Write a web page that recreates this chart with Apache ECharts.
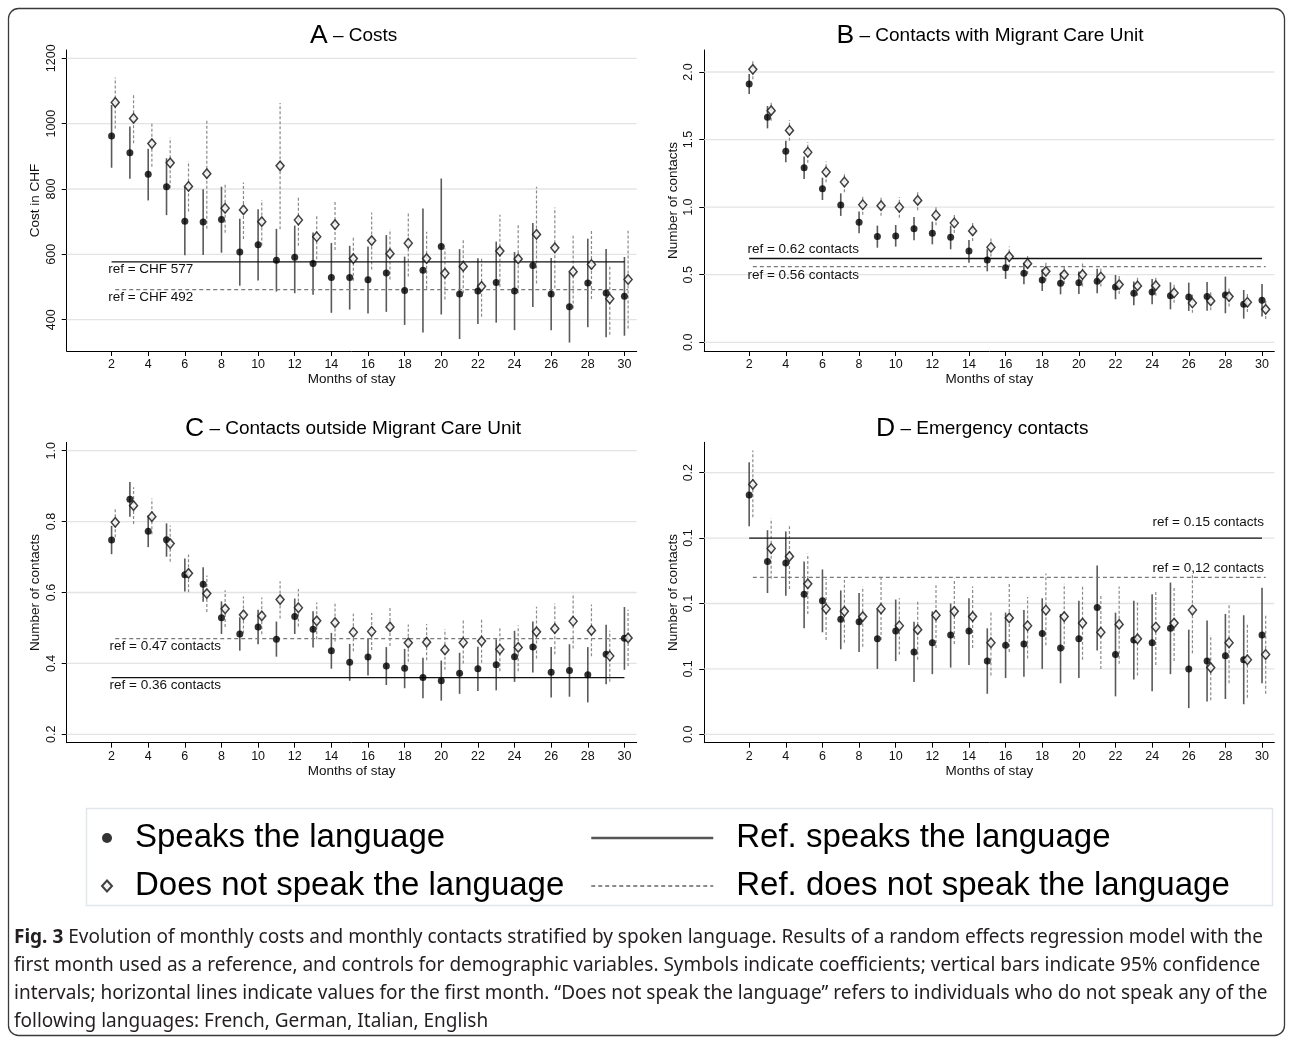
<!DOCTYPE html>
<html>
<head>
<meta charset="utf-8">
<script src="https://cdn.jsdelivr.net/npm/echarts@6/dist/echarts.min.js"></script>
<style>
  html, body { margin: 0; padding: 0; background: #fff; }
  #chart { width: 1292px; height: 1040px; }
</style>
</head>
<body>
<div id="chart"></div>
<script>
// Months of stay (month 1 is the reference month)
const months = [2,3,4,5,6,7,8,9,10,11,12,13,14,15,16,17,18,19,20,21,22,23,24,25,26,27,28,29,30];
const xTicks = [2,4,6,8,10,12,14,16,18,20,22,24,26,28,30];

// A – Costs (CHF)
const costSpk   = [962,911,845,807,701,699,707,607,629,582,591,572,529,529,522,543,489,551,624,479,488,514,488,566,479,440,512,482,472];
const costSpkLo = [865,831,765,720,597,598,605,504,520,486,481,476,421,431,419,424,384,361,416,341,387,391,368,439,368,330,377,346,351];
const costSpkHi = [1057,991,923,894,807,799,807,709,738,678,688,667,635,626,624,659,593,740,832,616,588,639,607,696,589,545,648,616,592];
const costNon   = [1065,1016,939,880,808,847,741,736,700,871,705,654,691,587,642,602,634,587,542,563,502,610,586,661,620,547,569,464,523];
const costNonLo = [985,940,868,802,731,678,666,647,627,677,626,585,613,519,554,523,532,495,462,481,409,501,481,511,496,434,463,354,373];
const costNonHi = [1141,1091,1004,957,885,1012,817,820,766,1063,779,723,764,654,728,677,726,669,618,646,593,721,695,807,743,657,674,564,672];
const costRef   = [577, 492];
const costRefLabels = ['ref = CHF 577', 'ref = CHF 492'];
const costTicks = [400, 600, 800, 1000, 1200];

// B – Contacts with Migrant Care Unit
const mcuSpk   = [1.911,1.665,1.413,1.292,1.137,1.016,0.888,0.782,0.787,0.841,0.806,0.777,0.676,0.609,0.552,0.510,0.461,0.436,0.441,0.451,0.409,0.362,0.372,0.345,0.335,0.338,0.350,0.281,0.311];
const mcuSpkLo = [1.837,1.583,1.332,1.208,1.053,0.935,0.806,0.700,0.708,0.755,0.725,0.688,0.589,0.525,0.469,0.429,0.380,0.355,0.358,0.362,0.318,0.274,0.281,0.244,0.232,0.234,0.215,0.175,0.190];
const mcuSpkHi = [1.985,1.748,1.492,1.374,1.218,1.102,0.967,0.863,0.868,0.927,0.893,0.863,0.757,0.688,0.634,0.589,0.540,0.515,0.523,0.545,0.498,0.449,0.469,0.444,0.441,0.446,0.486,0.387,0.432];
const mcuNon   = [2.020,1.714,1.568,1.406,1.260,1.186,1.018,1.011,0.999,1.050,0.940,0.883,0.824,0.703,0.634,0.582,0.525,0.501,0.501,0.483,0.427,0.417,0.419,0.365,0.291,0.306,0.338,0.296,0.244];
const mcuNonLo = [1.946,1.640,1.492,1.329,1.184,1.110,0.944,0.937,0.922,0.977,0.866,0.809,0.750,0.634,0.555,0.506,0.456,0.432,0.412,0.412,0.358,0.345,0.345,0.293,0.219,0.237,0.264,0.224,0.173];
const mcuNonHi = [2.094,1.788,1.645,1.482,1.337,1.260,1.092,1.085,1.075,1.122,1.011,0.954,0.895,0.769,0.708,0.653,0.592,0.570,0.589,0.555,0.498,0.486,0.491,0.436,0.362,0.375,0.409,0.367,0.313];
const mcuRef   = [0.62, 0.56];
const mcuRefLabels = ['ref = 0.62 contacts', 'ref = 0.56 contacts'];
const mcuTicks = [0, 0.5, 1.0, 1.5, 2.0];

// C – Contacts outside Migrant Care Unit
const outSpk   = [0.748,0.863,0.773,0.749,0.650,0.623,0.529,0.483,0.503,0.468,0.532,0.496,0.436,0.403,0.418,0.393,0.386,0.360,0.351,0.372,0.385,0.396,0.419,0.446,0.375,0.380,0.368,0.426,0.471];
const outSpkLo = [0.708,0.814,0.728,0.701,0.603,0.574,0.483,0.436,0.454,0.419,0.483,0.445,0.385,0.351,0.366,0.339,0.330,0.302,0.295,0.314,0.322,0.324,0.348,0.374,0.304,0.306,0.290,0.341,0.382];
const outSpkHi = [0.788,0.912,0.818,0.795,0.696,0.671,0.575,0.530,0.551,0.518,0.583,0.547,0.486,0.455,0.470,0.446,0.441,0.416,0.408,0.430,0.447,0.468,0.492,0.518,0.446,0.454,0.446,0.509,0.559];
const outNon   = [0.798,0.845,0.814,0.738,0.654,0.597,0.554,0.537,0.534,0.580,0.557,0.520,0.515,0.488,0.490,0.503,0.458,0.460,0.438,0.459,0.463,0.440,0.445,0.489,0.498,0.519,0.493,0.421,0.472];
const outNonLo = [0.756,0.793,0.764,0.687,0.601,0.545,0.503,0.484,0.482,0.527,0.504,0.468,0.462,0.434,0.438,0.449,0.405,0.409,0.382,0.400,0.402,0.378,0.378,0.414,0.426,0.442,0.420,0.348,0.393];
const outNonHi = [0.840,0.897,0.865,0.789,0.707,0.648,0.606,0.589,0.586,0.632,0.610,0.572,0.568,0.540,0.542,0.556,0.510,0.511,0.496,0.521,0.525,0.501,0.507,0.560,0.569,0.598,0.566,0.492,0.551];
const outRef   = [0.36, 0.47];
const outRefLabels = ['ref = 0.36 contacts', 'ref = 0.47 contacts'];
const outTicks = [0.2, 0.4, 0.6, 0.8, 1.0];

// D – Emergency contacts
const emeSpk   = [0.183,0.132,0.131,0.107,0.102,0.088,0.086,0.073,0.079,0.063,0.070,0.076,0.079,0.056,0.068,0.069,0.077,0.066,0.073,0.097,0.061,0.072,0.070,0.081,0.050,0.056,0.060,0.057,0.076];
const emeSpkLo = [0.159,0.108,0.106,0.081,0.078,0.065,0.063,0.050,0.056,0.040,0.046,0.051,0.053,0.031,0.043,0.044,0.050,0.039,0.043,0.064,0.029,0.042,0.033,0.046,0.020,0.025,0.027,0.023,0.039];
const emeSpkHi = [0.208,0.156,0.155,0.132,0.126,0.110,0.108,0.096,0.103,0.086,0.094,0.100,0.104,0.081,0.093,0.095,0.104,0.092,0.102,0.129,0.093,0.102,0.107,0.116,0.080,0.087,0.092,0.091,0.112];
const emeNon   = [0.191,0.142,0.136,0.115,0.096,0.094,0.090,0.096,0.083,0.080,0.091,0.094,0.090,0.070,0.089,0.083,0.095,0.090,0.085,0.078,0.084,0.073,0.082,0.085,0.095,0.051,0.070,0.057,0.061];
const emeNonLo = [0.166,0.119,0.111,0.092,0.072,0.070,0.067,0.072,0.061,0.057,0.066,0.069,0.066,0.045,0.063,0.058,0.068,0.065,0.057,0.050,0.054,0.045,0.053,0.056,0.062,0.026,0.039,0.028,0.031];
const emeNonHi = [0.217,0.165,0.159,0.138,0.119,0.118,0.113,0.121,0.104,0.102,0.114,0.119,0.113,0.094,0.115,0.105,0.123,0.115,0.113,0.106,0.113,0.101,0.109,0.113,0.123,0.076,0.100,0.084,0.091];
const emeRef   = [0.15, 0.12];
const emeRefLabels = ['ref = 0.15 contacts', 'ref = 0,12 contacts'];
const emeTicks = [0, 0.05, 0.1, 0.15, 0.2];
const emeTickLabels = ['0.0', '0.1', '0.1', '0.1', '0.2'];

const panelTitles = [['A', 'Costs'], ['B', 'Contacts with Migrant Care Unit'],
                     ['C', 'Contacts outside Migrant Care Unit'], ['D', 'Emergency contacts']];
const yNames = ['Cost in CHF', 'Number of contacts', 'Number of contacts', 'Number of contacts'];
const xName = 'Months of stay';
const legendNames = ['Speaks the language', 'Does not speak the language',
                     'Ref. speaks the language', 'Ref. does not speak the language'];
const captionLines = [
  'Evolution of monthly costs and monthly contacts stratified by spoken language. Results of a random effects regression model with the',
  'first month used as a reference, and controls for demographic variables. Symbols indicate coefficients; vertical bars indicate 95% confidence',
  'intervals; horizontal lines indicate values for the first month. \u201cDoes not speak the language\u201d refers to individuals who do not speak any of the',
  'following languages: French, German, Italian, English'
];
const captionLead = 'Fig. 3';

// ---------- layout & styling ----------
const FONT = '"Liberation Sans", Arial, Helvetica, sans-serif';
const CAPTION_FONT = '"Noto Sans", "Open Sans", sans-serif';
const panels = [
  { spk: costSpk, spkLo: costSpkLo, spkHi: costSpkHi, non: costNon, nonLo: costNonLo, nonHi: costNonHi,
    ref: costRef, refLabels: costRefLabels, ticks: costTicks, fmt: v => String(v),
    yMin: 304.2, yMax: 1225.4,
    grid: { left: 66.7, top: 50, width: 570, height: 301 },
    titleX: 305,  titleTop: 17.5,
    labelPos: [{ end: false, dx: -3.4, dy: 0, va: 'top' }, { end: false, dx: -3.4, dy: 0.5, va: 'top' }] },
  { spk: mcuSpk, spkLo: mcuSpkLo, spkHi: mcuSpkHi, non: mcuNon, nonLo: mcuNonLo, nonHi: mcuNonHi,
    ref: mcuRef, refLabels: mcuRefLabels, ticks: mcuTicks, fmt: v => v.toFixed(1),
    yMin: -0.0644, yMax: 2.1628,
    grid: { left: 704.3, top: 50, width: 570, height: 301 },
    titleX: 831.5, titleTop: 17.5,
    labelPos: [{ end: false, dx: -1.7, dy: -2.2, va: 'bottom' }, { end: false, dx: -1.7, dy: 1.5, va: 'top' }] },
  { spk: outSpk, spkLo: outSpkLo, spkHi: outSpkHi, non: outNon, nonLo: outNonLo, nonHi: outNonHi,
    ref: outRef, refLabels: outRefLabels, ticks: outTicks, fmt: v => v.toFixed(1),
    yMin: 0.1763, yMax: 1.0237,
    grid: { left: 66.7, top: 442.3, width: 570, height: 300.4 },
    titleX: 180, titleTop: 409.8,
    labelPos: [{ end: false, dx: -2, dy: 0.7, va: 'top' }, { end: false, dx: -2, dy: 1.1, va: 'top' }] },
  { spk: emeSpk, spkLo: emeSpkLo, spkHi: emeSpkHi, non: emeNon, nonLo: emeNonLo, nonHi: emeNonHi,
    ref: emeRef, refLabels: emeRefLabels, ticks: emeTicks,
    fmt: v => emeTickLabels[emeTicks.findIndex(t => Math.abs(t - v) < 1e-9)],
    yMin: -0.0064, yMax: 0.2232,
    grid: { left: 704.3, top: 442.3, width: 570, height: 300.4 },
    titleX: 871, titleTop: 409.8,
    labelPos: [{ end: true, dx: 2, dy: -8.5, va: 'bottom' }, { end: true, dx: 2, dy: -2.5, va: 'bottom' }] }
];
const NON_SHIFT = 0.2;   // horizontal dodge of the non-speaker markers
const lastMonth = months[months.length - 1];

const grids = [], xAxes = [], yAxes = [], titles = [], series = [];

panels.forEach((p, i) => {
  grids.push(Object.assign({ containLabel: false }, p.grid));

  xAxes.push({
    gridIndex: i, type: 'value', min: -0.45, max: 30.67,
    name: xName, nameLocation: 'middle', nameGap: 21,
    nameTextStyle: { fontFamily: FONT, fontSize: 13.5, color: '#111' },
    axisLine: { onZero: false, lineStyle: { color: '#000', width: 1 } },
    axisTick: { show: true, customValues: xTicks, length: 5, lineStyle: { color: '#000', width: 1 } },
    axisLabel: { customValues: xTicks, margin: 7.5, fontFamily: FONT, fontSize: 12.5, color: '#111' },
    splitLine: { show: false }
  });

  yAxes.push({
    gridIndex: i, type: 'value', min: p.yMin, max: p.yMax,
    name: yNames[i], nameLocation: 'middle', nameGap: 24,
    nameTextStyle: { fontFamily: FONT, fontSize: 13.5, color: '#111' },
    axisLine: { show: true, onZero: false, lineStyle: { color: '#000', width: 1 } },
    axisTick: { show: true, customValues: p.ticks, length: 5, lineStyle: { color: '#000', width: 1 } },
    axisLabel: { customValues: p.ticks, rotate: 90, margin: 9, fontFamily: FONT, fontSize: 12.5, color: '#111',
                 formatter: p.fmt },
    splitLine: { show: false }
  });

  titles.push({
    text: '{big|' + panelTitles[i][0] + '}{rest| \u2013 ' + panelTitles[i][1] + '}',
    left: p.titleX, top: p.titleTop, textAlign: 'left',
    textStyle: { fontWeight: 'normal', rich: {
      big:  { fontFamily: FONT, fontSize: 26.5, fontWeight: 'normal', color: '#000' },
      rest: { fontFamily: FONT, fontSize: 19, fontWeight: 'normal', color: '#000' }
    } }
  });

  // horizontal grid lines at the y ticks
  series.push({
    type: 'custom', xAxisIndex: i, yAxisIndex: i, z: 1, silent: true,
    data: p.ticks.map(v => [months[0], v]), encode: { x: 0, y: 1 },
    renderItem: (params, api) => {
      const cs = params.coordSys;
      const y = api.coord([api.value(0), api.value(1)])[1];
      return { type: 'line', shape: { x1: cs.x, y1: y, x2: cs.x + cs.width, y2: y },
               style: { stroke: '#e4e4e4', lineWidth: 1.3 } };
    }
  });

  // 95% confidence intervals
  const ciSeries = (lo, hi, shift, dashed) => ({
    type: 'custom', xAxisIndex: i, yAxisIndex: i, z: 2, silent: true,
    data: months.map((m, k) => [m + shift, lo[k], hi[k]]), encode: { x: 0, y: [1, 2] },
    renderItem: (params, api) => {
      const a = api.coord([api.value(0), api.value(1)]);
      const b = api.coord([api.value(0), api.value(2)]);
      return { type: 'line', shape: { x1: a[0], y1: a[1], x2: b[0], y2: b[1] },
               style: dashed ? { stroke: '#8a8a8a', lineWidth: 1.2, lineDash: [3, 2] }
                             : { stroke: '#5a5a5a', lineWidth: 1.6 } };
    }
  });
  series.push(ciSeries(p.spkLo, p.spkHi, 0, false));
  series.push(ciSeries(p.nonLo, p.nonHi, NON_SHIFT, true));

  // first-month reference lines
  series.push({
    type: 'line', name: legendNames[2], xAxisIndex: i, yAxisIndex: i, z: 3, silent: true,
    symbol: 'none', itemStyle: { color: '#111' }, lineStyle: { color: '#111', width: 1.3, type: 'solid' },
    data: [[months[0], p.ref[0]], [lastMonth, p.ref[0]]]
  });
  series.push({
    type: 'line', name: legendNames[3], xAxisIndex: i, yAxisIndex: i, z: 3, silent: true,
    symbol: 'none', itemStyle: { color: '#7a7a7a' }, lineStyle: { color: '#7a7a7a', width: 1.2, type: [4, 3] },
    data: [[months[0] + NON_SHIFT, p.ref[1]], [lastMonth + NON_SHIFT, p.ref[1]]]
  });

  // reference labels
  series.push({
    type: 'custom', xAxisIndex: i, yAxisIndex: i, z: 5, silent: true,
    data: p.ref.map((v, k) => [p.labelPos[k].end ? lastMonth : months[0], v]), encode: { x: 0, y: 1 },
    renderItem: (params, api) => {
      const k = params.dataIndex, lp = p.labelPos[k];
      const c = api.coord([api.value(0), api.value(1)]);
      return { type: 'text', x: c[0] + lp.dx, y: c[1] + lp.dy,
               style: { text: p.refLabels[k], fontFamily: FONT, fontSize: 13.5, fill: '#111',
                        align: lp.end ? 'right' : 'left', verticalAlign: lp.va } };
    }
  });

  // coefficients
  series.push({
    type: 'scatter', name: legendNames[0], xAxisIndex: i, yAxisIndex: i, z: 4, silent: true,
    symbol: 'circle', symbolSize: 7, itemStyle: { color: '#000' },
    data: months.map((m, k) => [m, p.spk[k]])
  });
  series.push({
    type: 'scatter', name: legendNames[1], xAxisIndex: i, yAxisIndex: i, z: 4, silent: true,
    symbol: 'diamond', symbolSize: [8, 9.5], itemStyle: { color: '#f2f2f2', borderColor: '#111', borderWidth: 1.5 },
    data: months.map((m, k) => [m + NON_SHIFT, p.non[k]])
  });
});

const legendText = { fontFamily: FONT, fontSize: 33, color: '#000', padding: [0, 0, 0, 18], lineHeight: 40 };

const graphics = [
  // figure frame
  { type: 'rect', silent: true, shape: { x: 8.5, y: 8.5, width: 1276, height: 1027, r: 10 },
    style: { fill: null, stroke: '#3a3a3a', lineWidth: 1.3 } },
  // legend frame
  { type: 'rect', silent: true, shape: { x: 86.5, y: 808.5, width: 1186, height: 97 },
    style: { fill: null, stroke: '#e0e6ea', lineWidth: 1.5 } }
];
captionLines.forEach((line, k) => {
  graphics.push({
    type: 'text', silent: true, x: 14, y: 938 + k * 28,
    style: { text: (k === 0 ? '{b|' + captionLead + '} ' : '') + line,
             fontFamily: CAPTION_FONT, fontSize: 19, fill: '#231f20',
             verticalAlign: 'middle',
             rich: { b: { fontFamily: CAPTION_FONT, fontSize: 19, fontWeight: 'bold', fill: '#231f20' } } }
  });
});

const chart = echarts.init(document.getElementById('chart'), null, { renderer: 'canvas' });
chart.setOption({
  backgroundColor: '#fff',
  animation: false,
  title: titles,
  grid: grids,
  xAxis: xAxes,
  yAxis: yAxes,
  legend: [
    { orient: 'vertical', left: 101, top: 818, padding: 0, itemGap: 8, itemWidth: 10, itemHeight: 11,
      selectedMode: false, textStyle: legendText,
      data: [{ name: legendNames[0], icon: 'circle' }, { name: legendNames[1], icon: 'diamond' }] },
    { orient: 'vertical', left: 590, top: 818, padding: 0, itemGap: 8, itemWidth: 122, itemHeight: 14,
      selectedMode: false, textStyle: legendText,
      data: [{ name: legendNames[2], itemStyle: { opacity: 0 }, lineStyle: { color: '#555', width: 2.5 } },
             { name: legendNames[3], itemStyle: { opacity: 0 }, lineStyle: { color: '#8a8a8a', width: 2 } }] }
  ],
  graphic: graphics,
  series: series
});
</script>
</body>
</html>
